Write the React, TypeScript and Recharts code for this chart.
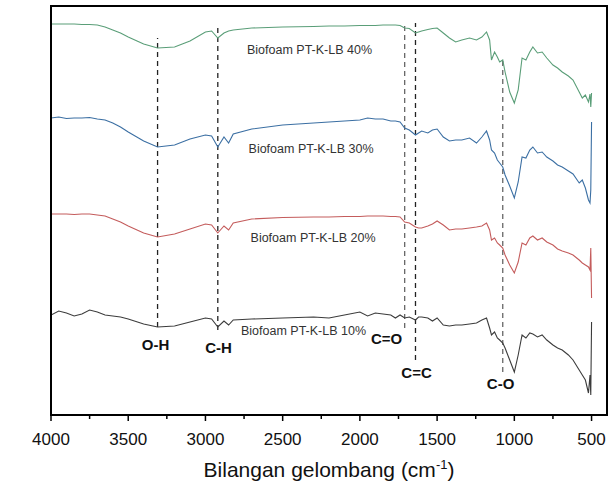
import React from 'react';
import { LineChart, Line, XAxis, YAxis, ReferenceLine, ReferenceDot } from 'recharts';

// wavenumbers (cm-1), shared by all four spectra
const wavenumbers = [
  4000, 3950, 3900, 3850, 3800, 3750, 3700, 3650, 3600, 3550, 3500,
  3400, 3310, 3200, 3100, 3000, 2960, 2920, 2880, 2850, 2820,
  2700, 2500, 2300, 2200, 2100, 2000, 1950, 1900, 1850, 1800, 1770, 1740, 1710, 1680, 1640, 1620, 1600, 1560, 1530, 1500,
  1460, 1420, 1380, 1340, 1290, 1245, 1210, 1180, 1160, 1148, 1128, 1110, 1095, 1075, 1060, 1030, 1000, 975, 950,
  925, 900, 880, 850, 820, 790, 750, 720, 690, 650, 620, 580, 560, 540, 520, 510, 505, 500,
];

// transmittance (a.u., curves stacked with offsets)
const t40 = [
  391, 391, 391, 391, 390.5, 390.5, 390, 388, 385, 382, 378,
  371, 367, 368, 374, 383, 384, 377, 382, 384, 385,
  387, 388, 388.5, 389, 389, 389.5, 389.5, 389.5, 390, 390, 390, 389.5, 387, 386.5, 382, 383, 384, 385.5, 386.5, 387,
  382, 377, 373, 375, 377, 375, 378, 383, 375, 355, 363, 358, 353, 355, 343, 323, 312, 325, 357,
  355, 363, 368, 362, 363, 357, 350, 347, 343, 339, 335, 323, 317, 320, 313, 321, 308, 322,
];
const t30 = [
  297, 298, 296.5, 297, 297, 297.5, 296, 295, 292, 288, 283,
  274, 268, 270, 276, 280, 279, 268, 278, 272, 281,
  286, 290, 292, 293, 294, 295, 297, 296, 296, 294, 294, 293, 287, 285, 280, 282, 284, 282, 285, 286,
  278, 274, 275, 275, 277, 272, 278, 284, 275, 265, 262, 255, 252, 248, 240, 229, 217, 233, 258,
  257, 265, 268, 262, 263, 258, 254, 250, 248, 244, 241, 232, 235, 227, 215, 212, 225, 293,
];
const t20 = [
  201, 201, 201, 200.5, 201, 201, 200, 199, 196, 193, 189,
  182, 178, 181, 186, 191, 190, 182, 189, 185, 192,
  196, 197.5, 198, 198, 198.5, 198.5, 199, 199, 199, 198.5, 198.5, 198, 193, 192, 188, 187, 187, 189, 191, 194,
  190, 185, 186, 186, 187, 188, 189, 192, 185, 175, 177, 172, 170, 167, 160, 150, 142, 153, 172,
  170, 177, 179, 175, 177, 173, 170, 166, 164, 162, 160, 155, 152, 150, 148, 145, 167, 117,
];
const t10 = [
  100, 104, 102, 99, 101, 105, 103, 100, 99, 98, 96,
  91, 88, 89, 93, 97, 96, 88, 94, 90, 95,
  96, 97, 98, 97, 100, 103, 99, 102, 101, 100, 97, 100, 97, 98, 95, 98, 98, 97, 94, 97,
  90, 89, 90, 90, 91, 92, 95, 97, 87, 80, 83, 77, 75, 72, 67, 55, 43, 60, 80,
  77, 82, 81, 78, 80, 75, 70, 67, 65, 60, 55, 45, 40, 35, 22, 40, 20, 93,
];

const seriesKeys = ['t40', 't30', 't20', 't10'];
const seriesNames = ['Biofoam PT-K-LB 40%', 'Biofoam PT-K-LB 30%', 'Biofoam PT-K-LB 20%', 'Biofoam PT-K-LB 10%'];
const seriesColors = ['#5a9e78', '#3b6fa3', '#c45c5c', '#3c3c3c'];
const nameX = [2326, 2316, 2303, 2365];
const nameY = [365, 266, 177, 84];

// functional group bands
const bandWn = [3310, 2920, 1710, 1640, 1075];
const bandTop = [377, 387, 392, 392, 357];
const bandBottom = [88, 85, 87, 55, 43];
const bandNames = ['O-H', 'C-H', 'C=O', 'C=C', 'C-O'];
const bandLabelX = [3323, 2915, 1827, 1633, 1089];
const bandLabelY = [70, 67.5, 76, 42.5, 31];
const bandColors = ['#222', '#222', '#666', '#222', '#666'];

const xTicks = [4000, 3750, 3500, 3250, 3000, 2750, 2500, 2250, 2000, 1750, 1500, 1250, 1000, 750, 500];

const data = wavenumbers.map((wn, i) => ({ wn, t40: t40[i], t30: t30[i], t20: t20[i], t10: t10[i] }));

const FONT = "Arial, 'Liberation Sans', sans-serif";

const XTick = (props: any) => {
  const { x, y, payload } = props;
  const major = payload.value % 500 === 0;
  return (
    <g>
      <line x1={x} x2={x} y1={y} y2={y + (major ? 6 : 4)} stroke="#000" strokeWidth={1.5} />
      {major && (
        <text x={x} y={y + 30} textAnchor="middle" fontSize={17} fontFamily={FONT} fill="#111">
          {payload.value}
        </text>
      )}
    </g>
  );
};

const centerText = (text: string, size: number, bold: boolean, color: string) => (p: any) => {
  const vb = p.viewBox;
  return (
    <text x={vb.x} y={vb.y} dy="0.35em" textAnchor="middle" fontSize={size} fontWeight={bold ? 'bold' : 'normal'} fontFamily={FONT} fill={color}>
      {text}
    </text>
  );
};

export default function App() {
  return (
    <div style={{ position: 'absolute', left: 0, top: 0, width: 610, height: 485, background: '#fff' }}>
      <LineChart width={610} height={485} data={data} margin={{ top: 6, right: 3, bottom: 0, left: 51 }}>
        <XAxis
          dataKey="wn"
          type="number"
          domain={[400, 4000]}
          reversed
          allowDataOverflow
          ticks={xTicks}
          interval={0}
          height={70}
          tickLine={false}
          tickSize={0}
          tickMargin={0}
          tick={XTick}
          axisLine={{ stroke: '#000', strokeWidth: 2 }}
          label={{
            content: (p: any) => {
              const vb = p.viewBox;
              return (
                <text x={vb.x + vb.width / 2} y={vb.y + 62} textAnchor="middle" fontSize={21} fontFamily={FONT} fill="#111">
                  Bilangan gelombang (cm
                  <tspan dy={-8} fontSize={13}>-1</tspan>
                  <tspan dy={8}>)</tspan>
                </text>
              );
            },
          }}
        />
        <YAxis
          domain={[0, 409]}
          allowDataOverflow
          width={0}
          axisLine={false}
          tick={false}
          tickLine={false}
          label={{
            content: (p: any) => {
              const vb = p.viewBox;
              const cx = vb.x - 26;
              const cy = vb.y + vb.height / 2;
              return (
                <text transform={`translate(${cx},${cy}) rotate(-90)`} textAnchor="middle" fontSize={20} fontFamily={FONT} fill="#111">
                  Transmittan (a.u)
                </text>
              );
            },
          }}
        />
        {bandWn.map((wn, i) => (
          <ReferenceLine
            key={bandNames[i]}
            segment={[{ x: wn, y: bandBottom[i] }, { x: wn, y: bandTop[i] }]}
            stroke={bandColors[i]}
            strokeWidth={1.3}
            strokeDasharray="5 4"
            ifOverflow="visible"
          />
        ))}
        {seriesKeys.map((k, i) => (
          <Line key={k} type="linear" dataKey={k} stroke={seriesColors[i]} strokeWidth={1.1} dot={false} isAnimationActive={false} />
        ))}
        {seriesNames.map((n, i) => (
          <ReferenceDot key={n} x={nameX[i]} y={nameY[i]} r={0} fill="none" stroke="none" label={{ content: centerText(n, 12.5, false, '#333') }} />
        ))}
        {bandNames.map((n, i) => (
          <ReferenceDot key={n} x={bandLabelX[i]} y={bandLabelY[i]} r={0} fill="none" stroke="none" label={{ content: centerText(n, 15, true, '#111') }} />
        ))}
      </LineChart>
      {/* plot frame */}
      <div
        style={{
          position: 'absolute',
          left: 50,
          top: 5,
          width: 558,
          height: 411,
          boxSizing: 'border-box',
          borderTop: '2px solid #000',
          borderRight: '2px solid #000',
          borderLeft: '2px solid #000',
          borderBottom: '2px solid #000',
          pointerEvents: 'none',
        }}
      />
    </div>
  );
}
